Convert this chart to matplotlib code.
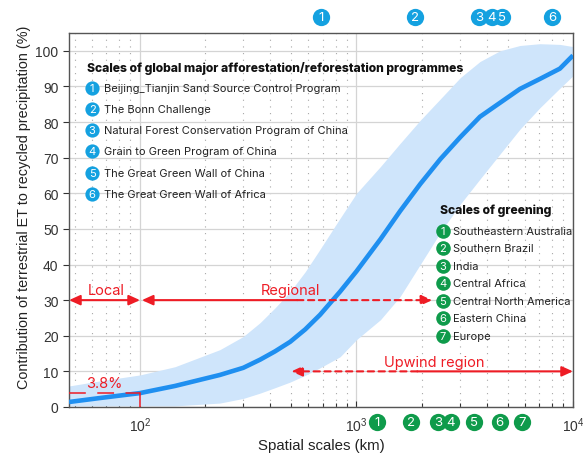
import matplotlib
matplotlib.use("Agg")
import matplotlib.pyplot as plt
from matplotlib.ticker import LogLocator, NullFormatter, FixedLocator
import numpy as np

# ---- data ----
scale_km = [47, 65, 100, 145, 234, 300, 359, 420, 494, 580, 679, 840, 1000, 1290, 1590,
            1970, 2440, 3020, 3720, 4600, 5690, 7030, 8700, 10000]
contrib_mean = [1.4, 2.5, 3.9, 5.9, 9.0, 11.0, 13.3, 15.6, 18.3, 21.8, 25.9, 32.4, 38.1,
                47.1, 55.0, 62.6, 69.6, 75.8, 81.5, 85.4, 89.3, 92.1, 95.0, 98.7]
contrib_upper = [5.9, 7.3, 9.0, 11.3, 16.1, 19.8, 23.7, 27.8, 32.4, 38.0, 44.3, 53.0, 60.0,
                 67.5, 74.0, 80.5, 86.5, 92.5, 97.0, 100.0, 101.5, 102.0, 101.8, 101.2]
contrib_lower = [0.3, 0.3, 0.3, 0.3, 1.1, 2.4, 3.9, 5.4, 7.0, 8.9, 11.0, 14.1, 18.9,
                 24.5, 31.0, 40.0, 49.0, 57.0, 64.0, 71.0, 78.0, 84.0, 89.5, 93.0]

programme_names = ["Beijing_Tianjin Sand Source Control Program",
                   "The Bonn Challenge",
                   "Natural Forest Conservation Program of China",
                   "Grain to Green Program of China",
                   "The Great Green Wall of China",
                   "The Great Green Wall of Africa"]
programme_scale = [684, 1860, 3675, 4225, 4695, 8000]

greening_names = ["Southeastern Australia", "Southern Brazil", "India",
                  "Central Africa", "Central North America", "Eastern China", "Europe"]
greening_scale = [1250, 1795, 2375, 2730, 3480, 4590, 5845]

local_span = [47, 100]
regional_solid = [100, 532]
regional_dashed = [532, 2240]
upwind_dashed = [500, 1910]
upwind_solid = [1910, 10000]
arrow_y = [30, 10]
local_share = 3.8

BLUE = "#1f8ff0"
BAND = "#cfe5fb"
PROG = "#14a1e0"
GREEN = "#0f9b4b"
RED = "#ee1c25"

plt.rcParams["font.family"] = ["Liberation Sans", "DejaVu Sans"]
LFONT = ["Inter", "DejaVu Sans"]

fig = plt.figure(figsize=(5.83, 4.56), dpi=100)
ax = fig.add_axes([0.1184, 0.1053, 0.8644, 0.8201])

ax.fill_between(scale_km, contrib_lower, contrib_upper, color=BAND, lw=0, zorder=1)
ax.plot(scale_km, contrib_mean, color=BLUE, lw=3.3, solid_capstyle="butt", zorder=3)

ax.set_xscale("log")
ax.set_xlim(47, 10000)
ax.set_ylim(0, 105)
ax.set_yticks(np.arange(0, 101, 10))
ax.xaxis.set_major_locator(FixedLocator([100, 1000, 10000]))
ax.xaxis.set_minor_locator(LogLocator(base=10, subs=np.arange(2, 10)))
ax.xaxis.set_minor_formatter(NullFormatter())

ax.grid(which="major", color="#d4d4d4", lw=0.9, zorder=0)
ax.grid(which="minor", axis="x", color="#a8a8a8", lw=0.8, linestyle=(0, (1, 5)), zorder=0)
ax.set_axisbelow(True)

ax.tick_params(axis="x", which="both", direction="in", length=4, width=0.8,
               labelsize=10, pad=6, colors="#333333")
ax.tick_params(axis="x", which="minor", length=3)
ax.tick_params(axis="y", direction="out", length=4, width=0.8, labelsize=10,
               colors="#333333")
for sp in ax.spines.values():
    sp.set_color("#555555")
    sp.set_linewidth(1.0)

ax.set_xlabel("Spatial scales (km)", fontsize=10.8, color="#222222")
ax.xaxis.set_label_coords(0.5, -0.083)
ax.set_ylabel("Contribution of terrestrial ET to recycled precipitation (%)",
              fontsize=10.4, color="#222222")
ax.yaxis.set_label_coords(-0.075, 0.536)

# ---- red annotations ----
head = dict(arrowstyle="-|>,head_length=0.55,head_width=0.25", color=RED, lw=1.5,
            shrinkA=0, shrinkB=0, mutation_scale=12)

ax.annotate("", xy=(local_span[0], arrow_y[0]), xytext=(local_span[1], arrow_y[0]),
            arrowprops=dict(head, arrowstyle="<|-|>,head_length=0.55,head_width=0.25"),
            zorder=5, annotation_clip=False)
ax.annotate("", xy=(regional_solid[0] * 1.02, arrow_y[0]), xytext=(regional_solid[1], arrow_y[0]),
            arrowprops=head, zorder=5)
ax.annotate("", xy=(regional_dashed[1], arrow_y[0]), xytext=(regional_dashed[0], arrow_y[0]),
            arrowprops=dict(head, linestyle=(0, (3, 2.2))), zorder=5)
ax.annotate("", xy=(upwind_dashed[0], arrow_y[1]), xytext=(upwind_dashed[1], arrow_y[1]),
            arrowprops=dict(head, linestyle=(0, (3, 2.2))), zorder=5)
ax.annotate("", xy=(upwind_solid[1], arrow_y[1]), xytext=(upwind_solid[0], arrow_y[1]),
            arrowprops=head, zorder=5, annotation_clip=False)

ax.text(69.5, 30.9, "Local", color=RED, fontsize=10.5, family=LFONT, ha="center", va="bottom")
ax.text(494, 30.9, "Regional", color=RED, fontsize=10.5, family=LFONT, ha="center", va="bottom")
ax.text(2290, 10.6, "Upwind region", color=RED, fontsize=10.5, family=LFONT, ha="center", va="bottom")
ax.text(68.5, local_share + 0.9, "3.8%", color=RED, fontsize=10.5, family=LFONT, ha="center", va="bottom")
ref, = ax.plot([47, 100], [local_share, local_share], color=RED, lw=1.1, zorder=4)
ref.set_dashes([11, 7.5])
ax.plot([100, 100], [0, local_share], color=RED, lw=1.1, zorder=4)

# ---- programme markers (top) and greening markers (bottom) ----
ax.scatter(programme_scale, [1.043] * len(programme_scale), s=155, color=PROG,
           transform=ax.get_xaxis_transform(), clip_on=False, zorder=6, lw=0)
for i, xv in enumerate(programme_scale):
    ax.text(xv, 1.043, str(i + 1), transform=ax.get_xaxis_transform(), color="white",
            fontsize=9.5, family=LFONT, ha="center", va="center", zorder=7)
ax.scatter(greening_scale, [-0.040] * len(greening_scale), s=155, color=GREEN,
           transform=ax.get_xaxis_transform(), clip_on=False, zorder=6, lw=0)
for i, xv in enumerate(greening_scale):
    ax.text(xv, -0.040, str(i + 1), transform=ax.get_xaxis_transform(), color="white",
            fontsize=9.5, family=LFONT, ha="center", va="center", zorder=7)

# ---- legends drawn as text ----
ax.text(0.036, 0.909, "Scales of global major afforestation/reforestation programmes",
        transform=ax.transAxes, fontsize=8.75, fontweight="heavy", family=LFONT,
        va="center", color="#111111")
prog_y = 0.853 - 0.0565 * np.arange(len(programme_names))
ax.scatter([0.0456] * len(programme_names), prog_y, s=105, color=PROG,
           transform=ax.transAxes, zorder=6, lw=0)
for i, (name, yv) in enumerate(zip(programme_names, prog_y)):
    ax.text(0.0456, yv, str(i + 1), transform=ax.transAxes, color="white", fontsize=8,
            family=LFONT, ha="center", va="center", zorder=7)
    ax.text(0.0694, yv, name, transform=ax.transAxes, fontsize=8.0, family=LFONT,
            va="center", color="#222222")

ax.text(0.736, 0.5275, "Scales of greening", transform=ax.transAxes, fontsize=8.75,
        fontweight="heavy", family=LFONT, va="center", color="#111111")
green_y = 0.4714 - 0.0469 * np.arange(len(greening_names))
ax.scatter([0.7415] * len(greening_names), green_y, s=110, color=GREEN,
           transform=ax.transAxes, zorder=6, lw=0)
for i, (name, yv) in enumerate(zip(greening_names, green_y)):
    ax.text(0.7415, yv, str(i + 1), transform=ax.transAxes, color="white", fontsize=8,
            family=LFONT, ha="center", va="center", zorder=7)
    ax.text(0.7625, yv, name, transform=ax.transAxes, fontsize=8.0, family=LFONT,
            va="center", color="#222222")

fig.savefig("out.png", dpi=100)
